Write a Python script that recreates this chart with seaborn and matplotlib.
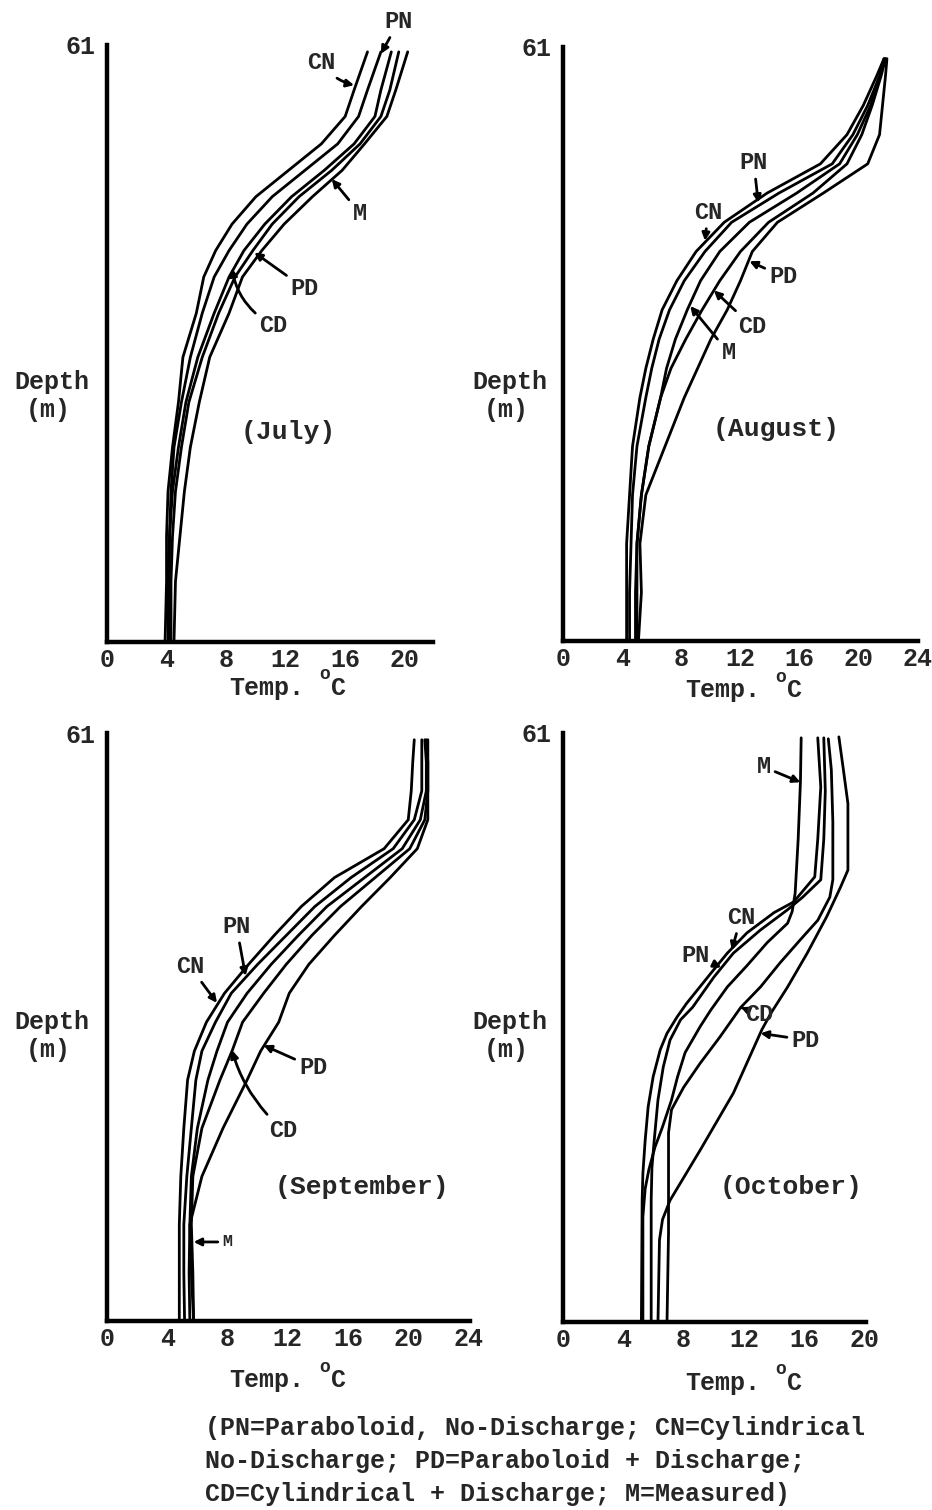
import matplotlib
matplotlib.use("Agg")
import matplotlib.pyplot as plt
import seaborn as sns
import pandas as pd

# ---------------- data (temperature degC vs depth m) ----------------
JUL_DEPTH = [0, 6.2, 10.8, 15.4, 19.9, 24.5, 29.1, 33.6, 37.3, 40.0, 42.7, 45.5, 48.2, 50.9, 53.7, 56.4, 60.3]
JUL_CN = [3.9, 4.0, 4.0, 4.1, 4.4, 4.8, 5.1, 6.0, 6.5, 7.3, 8.4, 10.0, 12.2, 14.4, 16.0, 16.6, 17.5]
JUL_PN = [4.1, 4.1, 4.2, 4.3, 4.5, 5.0, 5.6, 6.4, 7.2, 8.2, 9.4, 11.1, 13.3, 15.5, 16.9, 17.5, 18.4]
JUL_CD = [4.2, 4.2, 4.2, 4.4, 4.8, 5.3, 6.1, 7.2, 8.2, 9.2, 10.6, 12.4, 14.6, 16.6, 18.0, 18.4, 19.1]
JUL_PD = [4.3, 4.3, 4.4, 4.6, 5.0, 5.5, 6.4, 7.5, 8.6, 9.8, 11.1, 12.9, 15.1, 17.0, 18.4, 19.0, 19.6]
JUL_M = [4.5, 4.6, 4.9, 5.2, 5.6, 6.2, 6.9, 8.2, 9.1, 10.4, 11.9, 13.8, 15.8, 17.3, 18.8, 19.4, 20.2]

AUG_DEPTH = [0, 5, 10, 15, 20, 25, 28, 31, 34, 37, 40, 43, 46, 49, 52, 55, 58, 59.8]
AUG_CN = [4.3, 4.3, 4.3, 4.5, 4.7, 5.2, 5.6, 6.1, 6.7, 7.7, 9.0, 10.9, 13.8, 17.4, 19.2, 20.3, 21.2, 21.7]
AUG_PN = [4.5, 4.5, 4.6, 4.7, 5.0, 5.6, 6.0, 6.5, 7.2, 8.2, 9.6, 11.4, 14.6, 18.2, 19.6, 20.6, 21.4, 21.7]
AUG_M = [4.9, 4.9, 5.0, 5.3, 5.8, 6.6, 7.0, 7.6, 8.4, 9.3, 10.6, 12.6, 15.8, 18.7, 19.9, 20.8, 21.4, 21.8]
AUG_CD = [5.0, 5.0, 5.0, 5.3, 5.8, 6.6, 7.3, 8.3, 9.4, 10.6, 12.0, 13.9, 16.9, 19.2, 20.2, 20.9, 21.5, 21.8]
AUG_PD = [5.1, 5.3, 5.2, 5.6, 6.9, 8.2, 9.1, 10.0, 11.1, 12.0, 12.8, 14.5, 17.6, 20.6, 21.4, 21.6, 21.8, 21.9]

SEP_DEPTH = [0, 5, 10, 15, 20, 25, 28, 31, 34, 37, 40, 43, 46, 49, 52, 55, 58, 60.3]
SEP_CN = [4.8, 4.8, 4.8, 4.9, 5.1, 5.35, 5.8, 6.6, 7.8, 9.4, 11.1, 12.9, 15.1, 18.4, 20.0, 20.2, 20.3, 20.4]
SEP_PN = [5.15, 5.1, 5.1, 5.3, 5.6, 5.9, 6.3, 7.2, 8.25, 10.0, 11.9, 13.8, 16.2, 19.0, 20.4, 20.9, 20.9, 20.9]
SEP_M = [5.5, 5.45, 5.5, 5.6, 6.0, 6.7, 7.3, 8.0, 9.3, 10.9, 12.7, 14.6, 17.1, 19.6, 20.8, 21.2, 21.2, 21.1]
SEP_CD = [5.75, 5.7, 5.6, 5.7, 6.3, 7.5, 8.3, 9.0, 10.4, 11.9, 13.6, 15.5, 17.8, 20.1, 21.1, 21.3, 21.3, 21.2]
SEP_PD = [5.75, 5.6, 5.5, 6.3, 7.7, 9.3, 10.2, 11.4, 12.1, 13.4, 15.1, 16.9, 18.8, 20.6, 21.3, 21.3, 21.3, 21.3]

OCT_CN_D = [0, 12.6, 15.4, 18.8, 22.3, 25.4, 28.2, 29.9, 31.6, 33.0, 36.1, 38.2, 40.3, 42.4, 43.5, 46.1, 50.0, 55.4, 60.5]
OCT_CN_T = [5.2, 5.25, 5.3, 5.45, 5.65, 5.98, 6.45, 6.9, 7.57, 8.2, 9.8, 10.9, 12.2, 14.0, 15.3, 16.7, 16.9, 17.1, 16.9]
OCT_PN_D = [0, 12.6, 16.0, 18.8, 23.0, 26.4, 29.2, 31.3, 32.6, 35.7, 38.2, 40.6, 42.7, 44.0, 45.8, 50.0, 55.0, 60.5]
OCT_PN_T = [5.85, 5.85, 5.9, 6.05, 6.3, 6.65, 7.1, 7.8, 8.6, 10.0, 11.3, 13.1, 14.9, 15.9, 17.1, 17.3, 17.4, 17.3]
OCT_M_D = [0, 10.9, 13.8, 15.8, 18.1, 20.2, 23.0, 25.4, 27.9, 30.6, 32.3, 34.7, 36.9, 39.3, 41.3, 42.5, 44.4, 50.0, 55.9, 60.5]
OCT_M_T = [5.3, 5.3, 5.45, 5.7, 6.1, 6.6, 7.2, 7.6, 8.1, 9.1, 9.8, 10.9, 12.2, 13.55, 14.9, 15.2, 15.4, 15.6, 15.75, 15.8]
OCT_CD_D = [0, 9.2, 16.1, 19.6, 22.0, 24.3, 26.8, 29.5, 32.6, 34.7, 37.2, 39.6, 41.6, 44.0, 45.8, 51.8, 57.2, 60.4]
OCT_CD_T = [6.9, 7.0, 7.0, 7.0, 7.2, 8.0, 9.1, 10.4, 11.8, 13.1, 14.4, 15.75, 16.9, 17.7, 17.9, 17.9, 17.8, 17.6]
OCT_PD_D = [0, 8.5, 10.6, 12.6, 17.8, 23.7, 30.3, 32.0, 34.7, 38.2, 42.0, 45.0, 46.8, 53.7, 57.2, 60.6]
OCT_PD_T = [6.3, 6.4, 6.6, 7.1, 9.1, 11.3, 13.2, 13.8, 14.9, 16.2, 17.5, 18.4, 18.9, 18.9, 18.6, 18.3]

MONTHS = ["(July)", "(August)", "(September)", "(October)"]
X_TICKS = [[0, 4, 8, 12, 16, 20], [0, 4, 8, 12, 16, 20, 24], [0, 4, 8, 12, 16, 20, 24], [0, 4, 8, 12, 16, 20]]
X_MAX = [21.9, 23.8, 24.1, 20.1]
DEPTH_MAX = 61
Y_TICKS = [3.05 + 6.1 * k for k in range(10)] + [61]
CAPTION = ["(PN=Paraboloid, No-Discharge; CN=Cylindrical",
           "No-Discharge; PD=Paraboloid + Discharge;",
           "CD=Cylindrical + Discharge; M=Measured)"]

# ---------------- style ----------------
sns.set_style("white")
plt.rcParams["font.family"] = ["Liberation Mono", "DejaVu Sans Mono"]
plt.rcParams["font.weight"] = "bold"
FS = 18

W, H = 932, 1510
fig = plt.figure(figsize=(W / 100, H / 100), dpi=100)


def px_axes(x0, x1, ytop, ybot):
    return fig.add_axes([x0 / W, 1 - ybot / H, (x1 - x0) / W, (ybot - ytop) / H])


def long_df(depth_lists, temp_lists, names):
    rows = []
    for d, t, n in zip(depth_lists, temp_lists, names):
        for dd, tt in zip(d, t):
            rows.append({"depth": dd, "temp": tt, "series": n})
    return pd.DataFrame(rows)


names = ["CN", "PN", "M", "CD", "PD"]
panels = [
    (px_axes(107, 433, 45, 642),
     long_df([JUL_DEPTH] * 5, [JUL_CN, JUL_PN, JUL_M, JUL_CD, JUL_PD], names)),
    (px_axes(563, 918, 47, 641),
     long_df([AUG_DEPTH] * 5, [AUG_CN, AUG_PN, AUG_M, AUG_CD, AUG_PD], names)),
    (px_axes(107, 470, 733, 1321),
     long_df([SEP_DEPTH] * 5, [SEP_CN, SEP_PN, SEP_M, SEP_CD, SEP_PD], names)),
    (px_axes(563, 866, 733, 1322),
     long_df([OCT_CN_D, OCT_PN_D, OCT_M_D, OCT_CD_D, OCT_PD_D],
             [OCT_CN_T, OCT_PN_T, OCT_M_T, OCT_CD_T, OCT_PD_T], names)),
]

# annotation (label, text position, arrow tip, rad, fontsize) in data units
ANNOT = [
    [("PN", (19.6, 63.4), (18.4, 60.1), 0.0, FS - 1),
     ("CN", (14.4, 59.2), (16.6, 56.9), 0.2, FS - 1),
     ("M", (17.0, 43.8), (15.1, 47.3), 0.0, FS - 1),
     ("PD", (13.3, 36.1), (9.9, 39.8), 0.0, FS - 1),
     ("CD", (11.2, 32.3), (8.4, 38.2), -0.25, FS - 1)],
    [("PN", (12.9, 49.1), (13.2, 45.0), 0.0, FS - 1),
     ("CN", (9.8, 44.0), (9.6, 41.1), 0.0, FS - 1),
     ("PD", (14.9, 37.4), (12.6, 39.0), 0.0, FS - 1),
     ("CD", (12.8, 32.3), (10.2, 36.0), 0.0, FS - 1),
     ("M", (11.2, 29.6), (8.6, 34.4), 0.0, FS - 1)],
    [("PN", (8.6, 40.9), (9.2, 35.8), 0.0, FS - 1),
     ("CN", (5.5, 36.8), (7.3, 33.0), 0.0, FS - 1),
     ("PD", (13.7, 26.3), (10.4, 28.6), 0.0, FS - 1),
     ("CD", (11.7, 19.8), (8.3, 28.1), -0.15, FS - 1),
     ("M", (8.0, 8.2), (5.75, 8.2), 0.0, 12)],
    [("M", (13.3, 57.5), (15.75, 55.9), 0.0, FS - 1),
     ("CN", (11.8, 41.9), (11.2, 38.5), 0.0, FS - 1),
     ("PN", (8.8, 38.0), (10.5, 36.7), 0.0, FS - 1),
     ("CD", (13.0, 31.8), (11.8, 32.6), 0.0, FS - 1),
     ("PD", (16.1, 29.2), (13.1, 29.9), 0.0, FS - 1)],
]
MONTH_POS = [(12.2, 21.5), (14.4, 21.8), (16.9, 13.9), (15.1, 14.0)]

for i, (ax, df) in enumerate(panels):
    sns.lineplot(data=df, x="temp", y="depth", hue="series", orient="y",
                 estimator=None, palette=["black"] * 5, legend=False,
                 linewidth=2.0, ax=ax)
    ax.set_xlim(0, X_MAX[i])
    ax.set_ylim(0, DEPTH_MAX)
    ax.set_xticks(X_TICKS[i])
    ax.set_xticklabels([str(v) for v in X_TICKS[i]], fontsize=FS, fontweight="bold")
    ax.set_yticks(Y_TICKS)
    ax.set_yticklabels([""] * 10 + ["61"], fontsize=FS, fontweight="bold")
    ax.tick_params(axis="y", direction="in", length=7, width=2.5, pad=8)
    ax.tick_params(axis="x", direction="in", length=4, width=1.5, pad=4)
    for s in ("top", "right"):
        ax.spines[s].set_visible(False)
    for s in ("left", "bottom"):
        ax.spines[s].set_linewidth(3.2)
        ax.spines[s].set_color("black")
    ax.set_xlabel("")
    ax.set_ylabel("")
    ax.patch.set_alpha(0)
    for lab, txt, tip, rad, fs in ANNOT[i]:
        ax.annotate(lab, xy=tip, xytext=txt, ha="center", va="center",
                    fontsize=fs, annotation_clip=False,
                    arrowprops=dict(arrowstyle="-|>", color="black", lw=2.0,
                                    mutation_scale=11, shrinkA=1, shrinkB=0,
                                    connectionstyle=f"arc3,rad={rad}"))
    ax.text(MONTH_POS[i][0], MONTH_POS[i][1], MONTHS[i], ha="center",
            va="center", fontsize=FS + 1)


def ftext(x, y, s, **kw):
    fig.text(x / W, 1 - y / H, s, **kw)


# x-axis labels "Temp. °C" with superscript o
for (x0, ybase) in [(107, 688), (563, 690), (107, 1380), (563, 1383)]:
    ftext(x0 + 160, ybase, "Temp.", ha="center", va="center", fontsize=FS)
    ftext(x0 + 218, ybase - 13, "o", ha="center", va="center", fontsize=13)
    ftext(x0 + 231, ybase, "C", ha="center", va="center", fontsize=FS)

# y-axis labels
for (xc, yc) in [(52, 382), (510, 382), (52, 1022), (510, 1022)]:
    ftext(xc, yc, "Depth", ha="center", va="center", fontsize=FS)
    ftext(xc - 4, yc + 28, "(m)", ha="center", va="center", fontsize=FS)

# caption
for k, line in enumerate(CAPTION):
    ftext(205, 1428 + 33 * k, line, ha="left", va="center", fontsize=FS)

fig.savefig("out.png", dpi=100, facecolor="white")
